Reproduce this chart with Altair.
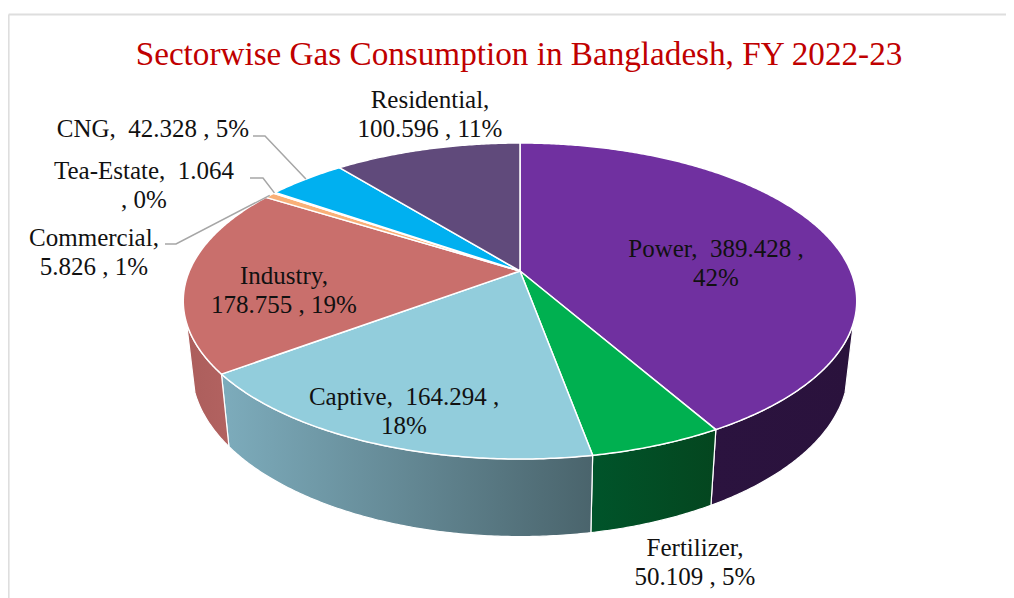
import numpy as np
import pandas as pd
import altair as alt

# ---- values ----
categories = ["Power", "Fertilizer", "Captive", "Industry", "Commercial", "Tea-Estate", "CNG", "Residential"]
values = [389.428, 50.109, 164.294, 178.755, 5.826, 1.064, 42.328, 100.596]
top_colors = ["#7030A0", "#00B050", "#92CDDC", "#C96F6C", "#F9B078", "#EBD9B0", "#00B0F0", "#604A7B"]
title_text = "Sectorwise Gas Consumption in Bangladesh, FY 2022-23"
NB = "\u00a0"
line_breaks = {
    "Power": (f"Power, {NB}{{v}} ,", "{p}%"),
    "Fertilizer": ("Fertilizer,", "{v} , {p}%"),
    "Captive": (f"Captive, {NB}{{v}} ,", "{p}%"),
    "Industry": ("Industry,", "{v} , {p}%"),
    "Commercial": ("Commercial,", "{v} , {p}%"),
    "Tea-Estate": (f"Tea-Estate, {NB}{{v}}", ", {p}%"),
    "CNG": (f"CNG, {NB}{{v}} , {{p}}%",),
    "Residential": ("Residential,", "{v} , {p}%"),
}

# ---- layout of the tilted pie (perspective projection of a disc) ----
W, H = 998, 590
CX, CY = 520.0, 271.0
A, B, K = 330.6, 152.3, 0.19
SIDE_X = 0.975
SIDE_SLOPE, SIDE_Y0, SIDE_YREF = 1.06, 447.5, 375.0
SILHOUETTE = (108.7, 251.3)
FONT = "Liberation Serif"
LABEL_SIZE = 25
TEXT_COLOR = "#111111"


def top_point(theta):
    t = np.radians(theta)
    u, v = np.sin(t), np.cos(t)
    d = 1 + K * v
    return CX + A * u / d, CY - B * v / d


def low_point(theta):
    x, y = top_point(theta)
    return CX + SIDE_X * (x - CX), SIDE_Y0 + SIDE_SLOPE * (y - SIDE_YREF)


def sweep(a, b):
    return np.linspace(a, b, max(3, int(abs(b - a) * 2) + 2))


total = sum(values)
edges = np.concatenate([[0.0], np.cumsum(values) / total * 360.0])
xs = alt.X("x:Q", scale=alt.Scale(domain=[8, 8 + W], range=[0, W], nice=False, zero=False), axis=None)
ys = alt.Y("y:Q", scale=alt.Scale(domain=[8, 8 + H], range=[0, H], nice=False, zero=False), axis=None)


def polygon(points, fill, stroke="white", sw=1.5):
    df = pd.DataFrame(points, columns=["x", "y"])
    df["i"] = range(len(df))
    return alt.Chart(df).mark_line(
        fill=fill, stroke=stroke, strokeWidth=sw, strokeJoin="round"
    ).encode(x=xs, y=ys, order="i:Q")


def grad(c1, c2):
    return alt.Gradient(
        gradient="linear", x1=0, y1=0, x2=1, y2=0,
        stops=[alt.GradientStop(color=c1, offset=0), alt.GradientStop(color=c2, offset=1)],
    )


side_fills = {
    "Power": grad("#2B133F", "#2A123C"),
    "Fertilizer": grad("#00542A", "#04461F"),
    "Captive": grad("#7DACBC", "#4A646C"),
    "Industry": grad("#AC5E5C", "#B26260"),
}

layers = []

# frame
frame = pd.DataFrame({"x": [8.6, 8 + W], "y": [14.5, 14.5]})
layers.append(alt.Chart(frame).mark_line(color="#DEDEDE", strokeWidth=2).encode(x=xs, y=ys))
frame2 = pd.DataFrame({"x": [8.6, 8.6], "y": [14.5, 8 + H]})
layers.append(alt.Chart(frame2).mark_line(color="#DEDEDE", strokeWidth=2).encode(x=xs, y=ys))

# side walls
for i, name in enumerate(categories):
    if name not in side_fills:
        continue
    a = max(edges[i], SILHOUETTE[0])
    b = min(edges[i + 1], SILHOUETTE[1])
    up = [top_point(t) for t in sweep(a, b)]
    lo = [low_point(t) for t in sweep(b, a)]
    layers.append(polygon(up + lo + up[:1], side_fills[name], sw=1.2))

# top face
for i, name in enumerate(categories):
    arc = [top_point(t) for t in sweep(edges[i], edges[i + 1])]
    layers.append(polygon([(CX, CY)] + arc + [(CX, CY)], top_colors[i]))

# leader lines: elbow positions next to their labels, the far end on the slice's rim
leader_elbows = {
    "CNG": [(253, 136), (265, 136)],
    "Tea-Estate": [(250, 178), (263, 178)],
    "Commercial": [(165, 244), (176, 244)],
}
for name, elbow in leader_elbows.items():
    i = categories.index(name)
    end = top_point((edges[i] + edges[i + 1]) / 2)
    df = pd.DataFrame(elbow + [end], columns=["x", "y"])
    df["i"] = range(len(df))
    layers.append(alt.Chart(df).mark_line(color="#A6A6A6", strokeWidth=1.5).encode(x=xs, y=ys, order="i:Q"))

# labels
label_anchor = {
    "Power": (716, 249), "Fertilizer": (695, 548), "Captive": (404, 397), "Industry": (284, 276),
    "Commercial": (94, 238), "Tea-Estate": (144, 171), "CNG": (153, 129), "Residential": (430, 100),
}
LINE_STEP = 28.5
rows = []
for name, val in zip(categories, values):
    pct = round(val / total * 100)
    x0, y0 = label_anchor[name]
    for j, pattern in enumerate(line_breaks[name]):
        rows.append({"x": x0, "y": y0 + j * LINE_STEP, "t": pattern.format(v=f"{val:.3f}", p=pct)})
layers.append(
    alt.Chart(pd.DataFrame(rows))
    .mark_text(font=FONT, fontSize=LABEL_SIZE, color=TEXT_COLOR, align="center", baseline="middle")
    .encode(x=xs, y=ys, text="t:N")
)

# title
layers.append(
    alt.Chart(pd.DataFrame({"x": [519], "y": [55], "t": [title_text]}))
    .mark_text(font=FONT, fontSize=33.2, color="#C00000", align="center", baseline="middle")
    .encode(x=xs, y=ys, text="t:N")
)

chart = (
    alt.layer(*layers)
    .properties(width=W, height=H, padding=0, background="white", autosize=alt.AutoSizeParams(type="none"))
    .configure_view(stroke=None)
)
chart.save("out.html", embed_options={"renderer": "svg", "actions": False})
